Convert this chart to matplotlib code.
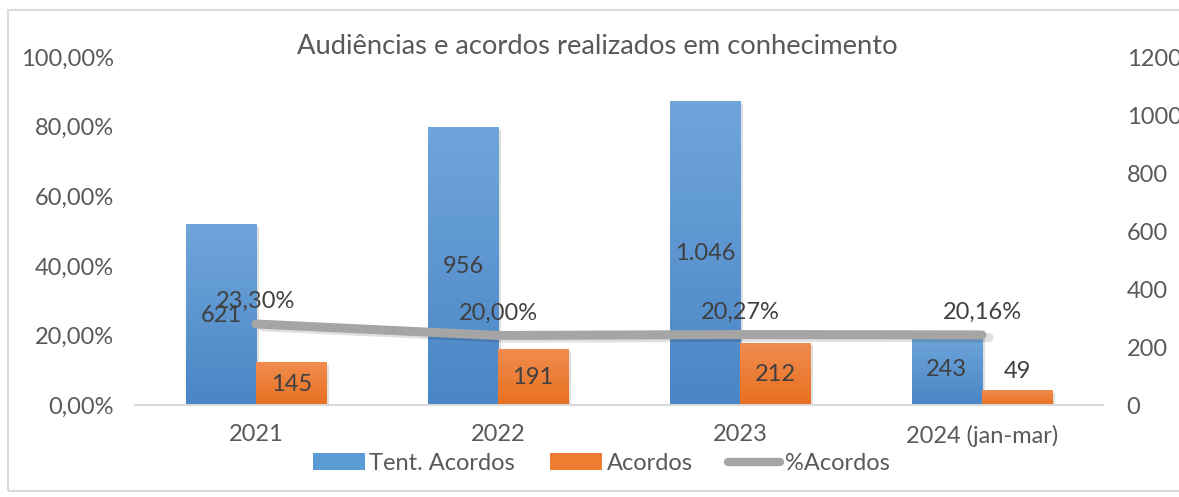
import matplotlib
matplotlib.use("Agg")
import matplotlib.pyplot as plt
import numpy as np
from matplotlib.patches import Rectangle
from matplotlib.ticker import FuncFormatter

# dados
anos = ['2021', '2022', '2023', '2024 (jan-mar)']
tent_acordos = [621, 956, 1046, 243]
acordos = [145, 191, 212, 49]
pct_acordos = [23.30, 20.00, 20.27, 20.16]
rotulos_tent = ['621', '956', '1.046', '243']
rotulos_pct = ['23,30%', '20,00%', '20,27%', '20,16%']

plt.rcParams['font.family'] = ['Lato', 'DejaVu Sans']
cinza_txt = '#595959'
azul = '#5B9BD5'
laranja = '#ED7D31'
cinza_linha = '#A5A5A5'

fig = plt.figure(figsize=(11.79, 4.97), dpi=100)
ax = fig.add_axes([0.1145, 0.185, 0.821, 0.70])
ax2 = ax.twinx()

# borda do gráfico
fig.patches.append(Rectangle((8 / 1179, 6 / 497), 1.1, 481 / 497, transform=fig.transFigure,
                             fill=False, edgecolor='#D9D9D9', linewidth=1.5))

x = np.arange(len(anos))
w = 0.29


def barras_gradiente(axis, xs, vals, cor_topo, cor_base):
    c1 = np.array(matplotlib.colors.to_rgb(cor_topo))
    c2 = np.array(matplotlib.colors.to_rgb(cor_base))
    t = np.linspace(0, 1, 64)[:, None]
    grad = (c1 * (1 - t) + c2 * t)[:, None, :]
    for xi, v in zip(xs, vals):
        # sombra leve
        axis.add_patch(Rectangle((xi - w / 2 + 0.012, 0), w, v - 6, facecolor='#000000', alpha=0.12,
                                 edgecolor='none', zorder=1))
        axis.imshow(grad, extent=(xi - w / 2, xi + w / 2, 0, v), aspect='auto', zorder=2,
                    interpolation='bilinear')


barras_gradiente(ax2, x - w / 2, tent_acordos, '#6FA5DA', '#4A86C6')
barras_gradiente(ax2, x + w / 2, acordos, '#F08C4F', '#E8701F')

ax2.set_xlim(-0.5, 3.5)
ax2.set_ylim(0, 1200)
ax2.set_yticks(range(0, 1201, 200))

for xi, v, r in zip(x - w / 2, tent_acordos, rotulos_tent):
    ax2.text(xi, v / 2, r, ha='center', va='center', fontsize=17, color='#404040', zorder=5)
for xi, v in zip(x + w / 2, acordos):
    if v > 100:
        ax2.text(xi, v / 2, str(v), ha='center', va='center', fontsize=17, color='#404040', zorder=5)
    else:
        ax2.annotate(str(v), (xi, v), xytext=(0, 14), textcoords='offset points',
                     ha='center', va='center', fontsize=17, color='#404040', zorder=5)

# linha de percentual
ax.plot(x + 0.03, [p - 0.8 for p in pct_acordos], color='#000000', alpha=0.12, linewidth=6.5,
        solid_capstyle='round', zorder=3)
ax.plot(x, pct_acordos, color=cinza_linha, linewidth=6.5, solid_capstyle='round', zorder=4)
for xi, p, r in zip(x, pct_acordos, rotulos_pct):
    ax.annotate(r, (xi, p), xytext=(0, 16), textcoords='offset points',
                ha='center', va='center', fontsize=17, color='#404040')

ax.set_zorder(ax2.get_zorder() + 1)
ax.patch.set_visible(False)
ax.set_xlim(-0.5, 3.5)
ax.set_ylim(0, 100)
ax.set_yticks(range(0, 101, 20))
ax.yaxis.set_major_formatter(FuncFormatter(lambda v, _: f'{v:.2f}'.replace('.', ',') + '%'))
ax.set_xticks(x)
ax.set_xticklabels(anos)

for a in (ax, ax2):
    for s in a.spines.values():
        s.set_visible(False)
    a.tick_params(length=0, labelsize=17, labelcolor=cinza_txt)
ax.tick_params(axis='y', pad=15)
ax.tick_params(axis='x', pad=14)
ax2.tick_params(axis='y', pad=17)
ax.spines['bottom'].set_visible(True)
ax.spines['bottom'].set_color('#D9D9D9')
ax.spines['bottom'].set_linewidth(1.5)

fig.text(0.507, 0.907, 'Audiências e acordos realizados em conhecimento', ha='center', va='center',
         fontsize=19.7, color=cinza_txt)

handles = [Rectangle((0, 0), 1, 1, facecolor=azul),
           Rectangle((0, 0), 1, 1, facecolor=laranja),
           plt.Line2D([0], [0], color=cinza_linha, linewidth=6, solid_capstyle='round')]
fig.legend(handles, ['Tent. Acordos', 'Acordos', '%Acordos'], loc='center', bbox_to_anchor=(0.51, 0.068),
           ncol=3, frameon=False, fontsize=17, labelcolor=cinza_txt, handlelength=2.2, handleheight=0.68,
           handletextpad=0.2, columnspacing=1.5)

fig.savefig('out.png', dpi=100)
